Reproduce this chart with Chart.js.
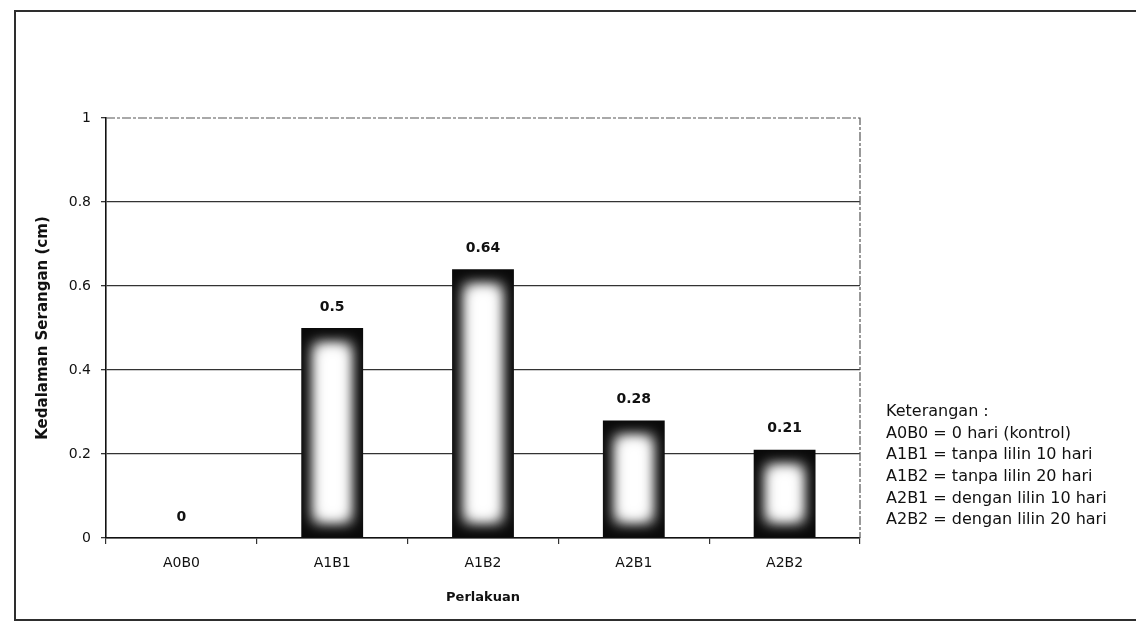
<!DOCTYPE html>
<html>
<head>
<meta charset="utf-8">
<title>Kedalaman Serangan</title>
<script src="https://cdn.jsdelivr.net/npm/chart.js@4/dist/chart.umd.min.js"></script>
<style>
  html, body { margin: 0; padding: 0; background: #ffffff; }
  #wrap { position: relative; width: 1136px; height: 625px; }
  canvas { display: block; }
</style>
</head>
<body>
<div id="wrap"><canvas id="c" width="1136" height="625"></canvas></div>
<script>
// Treatments (Perlakuan) and measured attack depth in cm
const categories = ['A0B0', 'A1B1', 'A1B2', 'A2B1', 'A2B2'];
const depthValues = [0, 0.5, 0.64, 0.28, 0.21];
const yTicks = [0, 0.2, 0.4, 0.6, 0.8, 1];

const yTitle = 'Kedalaman Serangan (cm)';
const xTitle = 'Perlakuan';
const noteTitle = 'Keterangan :';
const noteLines = [
  'A0B0 = 0 hari (kontrol)',
  'A1B1 = tanpa lilin 10 hari',
  'A1B2 = tanpa lilin 20 hari',
  'A2B1 = dengan lilin 10 hari',
  'A2B2 = dengan lilin 20 hari'
];

const FONT = "'DejaVu Sans', 'Liberation Sans', Arial, sans-serif";
const INK = '#111111';

// Outer frame, dashed plot border, bar shading, value labels and the notes block
const decorPlugin = {
  id: 'decor',
  beforeDraw(chart) {
    const ctx = chart.ctx;
    ctx.save();
    ctx.fillStyle = '#ffffff';
    ctx.fillRect(0, 0, chart.width, chart.height);
    ctx.strokeStyle = '#2e2e2e';
    ctx.lineWidth = 2;
    ctx.beginPath();
    ctx.moveTo(chart.width + 2, 11);
    ctx.lineTo(15, 11);
    ctx.lineTo(15, 620);
    ctx.lineTo(chart.width + 2, 620);
    ctx.stroke();
    ctx.restore();
  },
  afterDatasetsDraw(chart) {
    const ctx = chart.ctx;
    const meta = chart.getDatasetMeta(0);
    meta.data.forEach((bar) => {
      const p = bar.getProps(['x', 'y', 'base', 'width'], true);
      const h = p.base - p.y;
      if (h < 3) return;
      const l = p.x - p.width / 2;
      ctx.save();
      ctx.beginPath();
      ctx.rect(l, p.y, p.width, h);
      ctx.clip();
      ctx.filter = 'blur(7px)';
      ctx.fillStyle = '#f4f4f4';
      ctx.fillRect(l + 12, p.y + 15, p.width - 24, h - 30);
      ctx.fillStyle = '#ffffff';
      ctx.fillRect(l + 17, p.y + 20, p.width - 34, h - 40);
      ctx.restore();
    });
  },
  afterDraw(chart) {
    const ctx = chart.ctx;
    const area = chart.chartArea;
    ctx.save();
    // dashed top and right edges of the plot area
    ctx.strokeStyle = '#555555';
    ctx.lineWidth = 1.2;
    ctx.setLineDash([9, 2, 3, 2]);
    ctx.beginPath();
    ctx.moveTo(area.left, area.top);
    ctx.lineTo(area.right, area.top);
    ctx.lineTo(area.right, area.bottom);
    ctx.stroke();
    ctx.setLineDash([]);

    // value labels above bars
    const meta = chart.getDatasetMeta(0);
    ctx.fillStyle = INK;
    ctx.font = 'bold 14px ' + FONT;
    ctx.textAlign = 'center';
    ctx.textBaseline = 'middle';
    meta.data.forEach((bar, i) => {
      ctx.fillText(String(depthValues[i]), bar.x, bar.y - 21);
    });

    // notes block
    ctx.font = '16px ' + FONT;
    ctx.textAlign = 'left';
    const nx = 886, ny = 412, step = 21.6;
    ctx.fillText(noteTitle, nx, ny);
    noteLines.forEach((t, i) => ctx.fillText(t, nx, ny + step * (i + 1)));
    ctx.restore();
  }
};

new Chart(document.getElementById('c'), {
  type: 'bar',
  data: {
    labels: categories,
    datasets: [{
      data: depthValues,
      backgroundColor: '#0a0a0a',
      borderWidth: 0,
      categoryPercentage: 1,
      barPercentage: 0.41
    }]
  },
  options: {
    responsive: false,
    animation: false,
    devicePixelRatio: 1,
    layout: { padding: { left: 20, right: 276, top: 118, bottom: 0 } },
    plugins: {
      legend: { display: false },
      tooltip: { enabled: false },
      title: { display: false }
    },
    scales: {
      x: {
        grid: {
          drawOnChartArea: false,
          drawTicks: true,
          tickLength: 6,
          color: '#333333',
          lineWidth: 1.2
        },
        border: { display: true, color: '#111111', width: 1.6 },
        ticks: {
          color: INK,
          font: { family: FONT, size: 14 },
          padding: 11,
          maxRotation: 0
        },
        title: {
          display: true,
          text: xTitle,
          color: INK,
          font: { family: FONT, size: 13, weight: 'bold' },
          padding: { top: 0, bottom: 20 }
        },
        afterFit(scale) { scale.height = 87; }
      },
      y: {
        min: 0,
        max: 1,
        afterBuildTicks(scale) { scale.ticks = yTicks.map(v => ({ value: v })); },
        grid: {
          color: (c) => (c.tick && c.tick.value === 1) ? 'rgba(0,0,0,0)' : '#333333',
          lineWidth: 1.3,
          drawTicks: true,
          tickLength: 5,
          tickColor: '#333333'
        },
        border: { display: true, color: '#111111', width: 1.6 },
        ticks: {
          color: INK,
          font: { family: FONT, size: 14 },
          padding: 10,
          callback: (v) => String(v)
        },
        title: {
          display: true,
          text: yTitle,
          color: INK,
          font: { family: FONT, size: 15, weight: 'bold' },
          padding: { top: 14, bottom: 0 }
        },
        afterFit(scale) { scale.width = 86; }
      }
    }
  },
  plugins: [decorPlugin]
});
</script>
</body>
</html>
